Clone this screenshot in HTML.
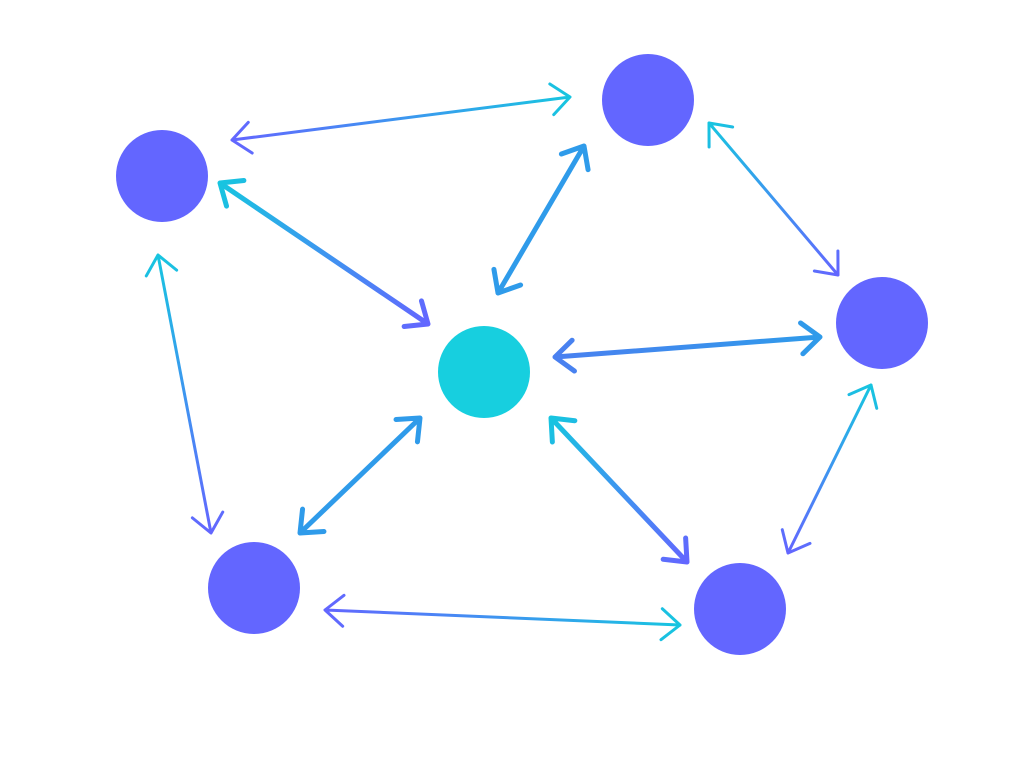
<!DOCTYPE html>
<html><head><meta charset="utf-8"><style>html,body{margin:0;padding:0;background:#fff}svg{display:block}</style></head>
<body>
<svg id="s" width="1024" height="768" xmlns="http://www.w3.org/2000/svg">
<defs></defs>
<circle cx="484" cy="372" r="46" fill="#17CFDF"/>
<circle cx="162" cy="176" r="46" fill="#6366FF"/>
<circle cx="648" cy="100" r="46" fill="#6366FF"/>
<circle cx="882" cy="323" r="46" fill="#6366FF"/>
<circle cx="740" cy="609" r="46" fill="#6366FF"/>
<circle cx="254" cy="588" r="46" fill="#6366FF"/>
</svg>
<script>
var s=document.getElementById('s'),defs=s.querySelector('defs'),NS='http://www.w3.org/2000/svg';
var A=[[232,140,570,97,3,'#6366FF','#17C5E0'],[220,183,428,324,5,'#17C5E0','#6366FF'],[498,293,584,146,5,'#2F9BEA','#2F9BEA'],
[709,123,838,275,3,'#17C5E0','#6366FF'],[555,357,820,337,5,'#4A80F0','#2F9BEA'],[871,385,788,553,3,'#17C5E0','#6366FF'],
[551,418,687,562,5,'#17C5E0','#6366FF'],[325,610,680,625,3,'#6366FF','#17C5E0'],[300,533,420,418,5,'#2F9BEA','#2F9BEA'],
[158,255,211,533,3,'#17C5E0','#6366FF']];
A.forEach(function(a,i){
 var g=document.createElementNS(NS,'linearGradient');g.id='g'+i;g.setAttribute('gradientUnits','userSpaceOnUse');
 g.setAttribute('x1',a[0]);g.setAttribute('y1',a[1]);g.setAttribute('x2',a[2]);g.setAttribute('y2',a[3]);
 g.innerHTML='<stop offset="0" stop-color="'+a[5]+'"/><stop offset="1" stop-color="'+a[6]+'"/>';defs.appendChild(g);
 var dx=a[2]-a[0],dy=a[3]-a[1],L=Math.hypot(dx,dy),ux=dx/L,uy=dy/L,h=24,w=0.7;
 function head(x,y,vx,vy){var c=Math.cos(w),sn=Math.sin(w);
  var p1=[x+h*(vx*c-vy*sn),y+h*(vx*sn+vy*c)],p2=[x+h*(vx*c+vy*sn),y+h*(-vx*sn+vy*c)];
  return 'M'+p1+' L'+x+','+y+' L'+p2;}
 var p=document.createElementNS(NS,'path');
 p.setAttribute('d','M'+a[0]+','+a[1]+' L'+a[2]+','+a[3]+' '+head(a[0],a[1],ux,uy)+' '+head(a[2],a[3],-ux,-uy));
 p.setAttribute('stroke','url(#g'+i+')');p.setAttribute('stroke-width',a[4]);p.setAttribute('fill','none');
 p.setAttribute('stroke-linecap','round');p.setAttribute('stroke-linejoin','round');s.insertBefore(p,s.children[1]);
});
</script>
</body></html>
